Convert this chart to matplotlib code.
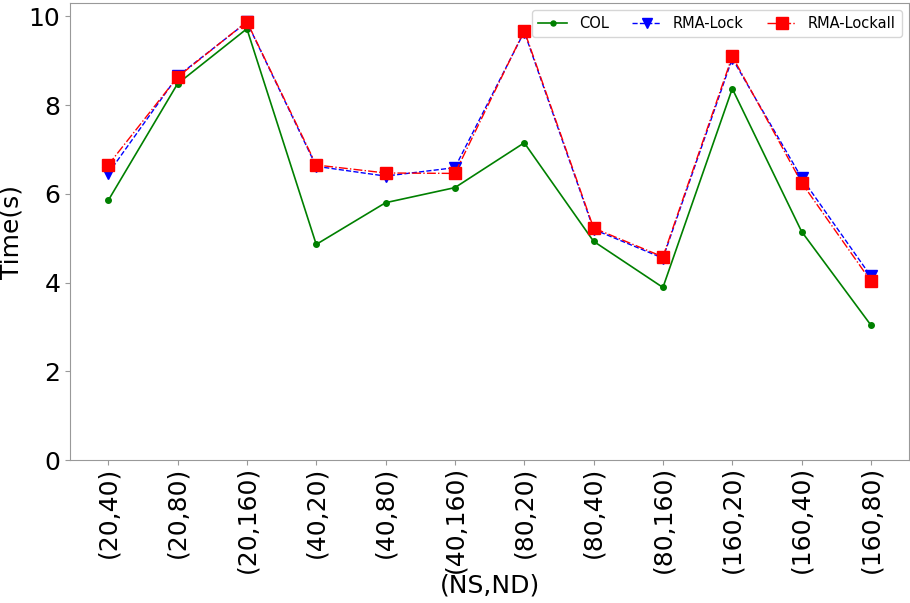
import matplotlib
matplotlib.use('Agg')
import matplotlib.pyplot as plt

# ── 데이터 ──────────────────────────────────────────────
labels = ['(20,40)', '(20,80)', '(20,160)', '(40,20)', '(40,80)', '(40,160)',
          '(80,20)', '(80,40)', '(80,160)', '(160,20)', '(160,40)', '(160,80)']
col = [5.85, 8.48, 9.72, 4.86, 5.80, 6.14, 7.15, 4.93, 3.89, 8.37, 5.15, 3.04]
rma_lock = [6.46, 8.65, 9.87, 6.62, 6.40, 6.59, 9.65, 5.20, 4.55, 9.05, 6.36, 4.14]
rma_lockall = [6.65, 8.63, 9.88, 6.65, 6.47, 6.46, 9.68, 5.23, 4.58, 9.10, 6.25, 4.03]

fig = plt.figure(figsize=(9.1, 6.03), dpi=100)
ax = fig.add_axes([0.077, 0.237, 0.922, 0.758])

x = range(len(labels))
ax.plot(x, col, 'g-', marker='o', markersize=4, linewidth=1.2, label='COL')
ax.plot(x, rma_lock, 'b--', marker='v', markersize=8, linewidth=1, label='RMA-Lock')
ax.plot(x, rma_lockall, 'r-.', marker='s', markersize=9, linewidth=1, label='RMA-Lockall')

ax.set_ylim(0, 10.3)
ax.set_xticks(list(x))
ax.set_xticklabels(labels, rotation=90, fontsize=18)
ax.tick_params(axis='y', labelsize=18)
ax.tick_params(axis='x', pad=1)
ax.tick_params(colors='#999999', labelcolor='black')
for s in ax.spines.values():
    s.set_color('#999999')

ax.set_xlabel('(NS,ND)', fontsize=18, labelpad=0)
ax.set_ylabel('Time(s)', fontsize=18)
ax.legend(loc='upper right', ncol=3, fontsize=10.5, markerscale=0.9,
          columnspacing=1.6)

fig.savefig('out.png', dpi=100)
